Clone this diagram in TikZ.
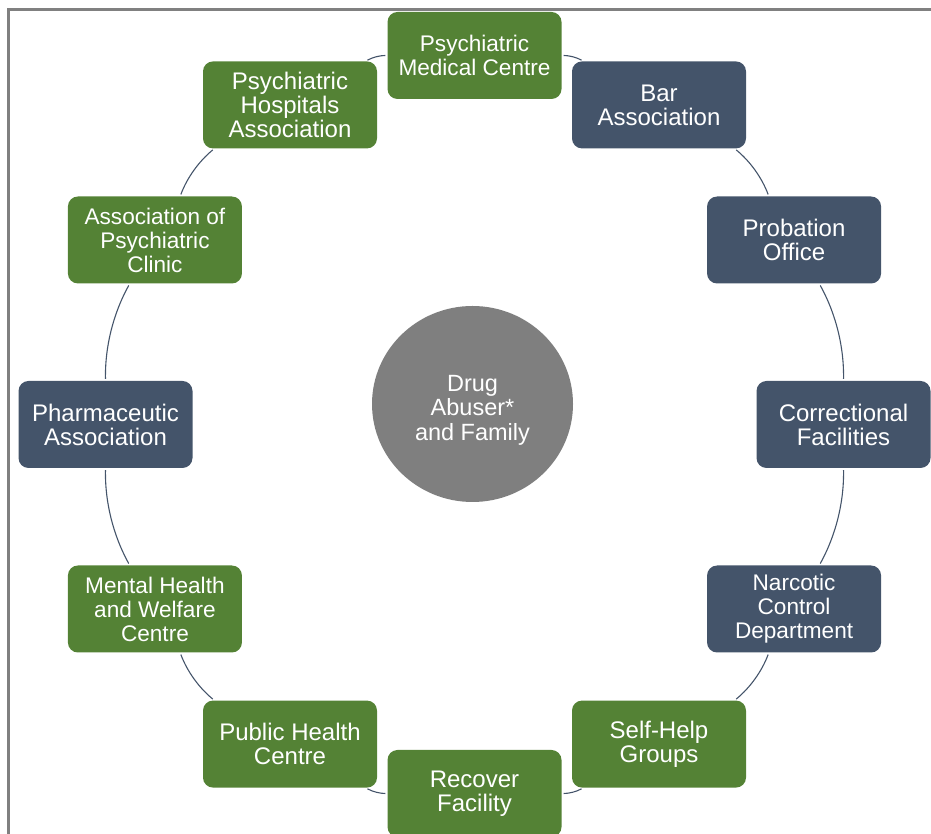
\documentclass[tikz,border=0pt]{standalone}
\usepackage{fontspec}
\setmainfont{Liberation Sans}
\usetikzlibrary{shapes.geometric,calc}
\definecolor{leafgreen}{HTML}{548235}
\definecolor{slateblue}{HTML}{44546A}
\definecolor{hubgray}{HTML}{7F7F7F}
\definecolor{framegray}{HTML}{808080}

\begin{document}
\begin{tikzpicture}[x=1pt,y=1pt,
  box/.style={rounded corners=10pt, minimum width=174pt, minimum height=87pt,
    inner sep=0pt, align=center, text=white,
    font=\fontsize{24pt}{24pt}\selectfont},
  small/.style={font=\fontsize{22.6pt}{24pt}\selectfont},
  greenbox/.style={box, fill=leafgreen},
  bluebox/.style={box, fill=slateblue},
  hub/.style={ellipse, fill=hubgray, minimum width=201pt, minimum height=196pt, inner sep=0pt},
  hubtext/.style={align=center, text=white, font=\fontsize{23.5pt}{24.5pt}\selectfont},
  ring/.style={draw=slateblue, line width=1.1pt, bend left=15, looseness=0.87,
    shorten >=2pt, shorten <=2pt}]

\useasboundingbox (0,0) rectangle (931,834);

% outer frame (only the left and top edges fall inside the page)
\draw[framegray, line width=3pt] (8.5,-10) -- (8.5,824.5) -- (945,824.5);

\coordinate (c) at (474.5,409.5);

% central hub
\node[hub] (hub) at (472.5,430) {};
\node[hubtext] (hubl) at ($(hub)+(0,-6)$) {Drug\\Abuser*\\and Family};

% surrounding organisations, clockwise from the top
\node[greenbox,small] (n0)  at ($(c)+(90:369)$)   {Psychiatric\\Medical Centre};
\node[bluebox]        (n1)  at ($(c)+(60:369)$)   {Bar\\Association};
\node[bluebox]        (n2)  at ($(c)+(30:369)$)   {Probation\\Office};
\node[bluebox]        (n3)  at ($(c)+(0:369)$)    {Correctional\\Facilities};
\node[bluebox,small]  (n4)  at ($(c)+(-30:369)$)  {Narcotic\\Control\\Department};
\node[greenbox]       (n5)  at ($(c)+(-60:369)$)  {Self-Help\\Groups};
\node[greenbox]       (n6)  at ($(c)+(-90:369)$)  {Recover\\Facility};
\node[greenbox]       (n7)  at ($(c)+(-120:369)$) {Public Health\\Centre};
\node[greenbox,small] (n8)  at ($(c)+(-150:369)$) {Mental Health\\and Welfare\\Centre};
\node[bluebox]        (n9)  at ($(c)+(180:369)$)  {Pharmaceutic\\Association};
\node[greenbox,small] (n10) at ($(c)+(150:369)$)  {Association of\\Psychiatric\\Clinic};
\node[greenbox]       (n11) at ($(c)+(120:369)$)  {Psychiatric\\Hospitals\\Association};

% ring connectors
\foreach \a/\b in {n0/n1,n1/n2,n2/n3,n3/n4,n4/n5,n5/n6,n6/n7,n7/n8,n8/n9,n9/n10,n10/n11,n11/n0}
  \draw[ring] (\a) to (\b);
\end{tikzpicture}
\end{document}
